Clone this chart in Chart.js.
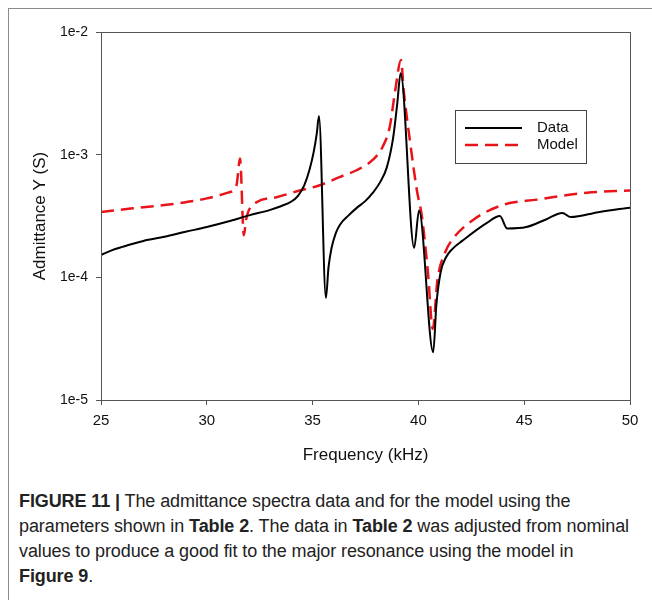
<!DOCTYPE html>
<html>
<head>
<meta charset="utf-8">
<script src="https://cdn.jsdelivr.net/npm/chart.js@4.4.0/dist/chart.umd.min.js"></script>
<style>
  html, body { margin: 0; padding: 0; background: #fff; }
  body { width: 652px; height: 600px; position: relative; overflow: hidden; }
  #frame {
    position: absolute; left: 8px; top: 8px; width: 660px; height: 600px;
    border-left: 1px solid #8a8a8a; border-top: 1px solid #8a8a8a;
  }
  #wrap { position: absolute; left: 0; top: 0; width: 652px; height: 470px; }
  #caption {
    position: absolute; left: 19px; top: 489px; width: 630px;
    font-family: "Liberation Sans", Arial, sans-serif; font-size: 18px;
    line-height: 25px; color: #222; white-space: nowrap; letter-spacing: -0.1px;
  }
  #caption b { font-weight: bold; }
</style>
</head>
<body>
<div id="frame"></div>
<div id="wrap"><canvas id="myChart" width="652" height="470"></canvas></div>
<div id="caption"><b>FIGURE 11 |</b> The admittance spectra data and for the model using the<br>parameters shown in <b>Table 2</b>. The data in <b>Table 2</b> was adjusted from nominal<br>values to produce a good fit to the major resonance using the model in<br><b>Figure 9</b>.</div>
<script>
// Measured admittance (black solid line)
const dataFreq = [25, 25.5, 26, 27, 28, 29, 30, 31, 32, 33, 33.5, 34, 34.3, 34.6, 34.85, 35.05, 35.2, 35.3,
  35.63, 35.75, 35.9, 36.1, 36.3, 36.7, 37.1, 37.5, 37.85, 38.2, 38.5, 38.8, 39.0, 39.16,
  39.8, 40.03, 40.7, 40.85, 41.05, 41.3, 41.6, 42.1, 43.2, 43.85, 44.2, 45.1, 46.0,
  46.8, 47.2, 48.5, 50];
const dataY = [1.52e-4, 1.66e-4, 1.77e-4, 1.98e-4, 2.14e-4, 2.35e-4, 2.57e-4, 2.85e-4, 3.2e-4,
  3.55e-4, 3.8e-4, 4.15e-4, 4.6e-4, 5.6e-4, 7.5e-4, 1.05e-3, 1.5e-3, 2.07e-3,
  6.8e-5, 1.2e-4, 1.75e-4, 2.3e-4, 2.7e-4, 3.2e-4, 3.7e-4, 4.2e-4, 4.9e-4, 6.0e-4, 7.8e-4, 1.35e-3, 2.6e-3, 4.6e-3,
  1.74e-4, 3.5e-4, 2.45e-5, 6.0e-5, 1.1e-4, 1.45e-4, 1.7e-4, 2.0e-4, 2.75e-4, 3.16e-4, 2.5e-4, 2.57e-4, 2.95e-4,
  3.35e-4, 3.1e-4, 3.4e-4, 3.7e-4];

// Model admittance (red dashed line)
const modelFreq = [25, 26.5, 28, 29, 30, 31, 31.4, 31.57, 31.75, 31.85, 31.95, 32.35, 33.3, 34.4,
  35.3, 36.3, 37.1, 37.85, 38.3, 38.65, 38.9, 39.18, 39.3, 39.6, 39.93, 40.17, 40.45, 40.68,
  40.9, 41.25, 41.65, 42.6, 44, 45.6, 47.95, 50];
const modelY = [3.41e-4, 3.65e-4, 3.88e-4, 4.1e-4, 4.4e-4, 4.9e-4, 5.6e-4, 9.3e-4, 2.2e-4, 2.9e-4, 3.4e-4,
  4.1e-4, 4.5e-4, 5.1e-4, 5.6e-4, 6.6e-4, 7.5e-4, 9.1e-4, 1.15e-3, 1.7e-3, 3.3e-3, 5.9e-3, 3.4e-3, 1.3e-3,
  5.1e-4, 3.1e-4, 1.1e-4, 3.8e-5, 9.5e-5, 1.58e-4, 2.08e-4, 2.95e-4, 3.9e-4, 4.3e-4, 4.9e-4, 5.1e-4];

const xTicks = [25, 30, 35, 40, 45, 50];
const yTicks = [1e-5, 1e-4, 1e-3, 1e-2];
const yTickLabels = ["1e-5", "1e-4", "1e-3", "1e-2"];
const legendLabels = ["Data", "Model"];

const toPoints = (xs, ys) => xs.map((x, i) => ({ x: x, y: ys[i] }));

const FONT = "'Liberation Sans', Arial, sans-serif";

// box round the plot area
const frameBox = {
  id: "frameBox",
  afterDraw(chart) {
    const { ctx, chartArea: a } = chart;
    ctx.save();
    ctx.strokeStyle = "#555";
    ctx.lineWidth = 1;
    ctx.strokeRect(a.left + 0.5, a.top + 0.5, a.right - a.left, a.bottom - a.top);
    ctx.restore();
  },
};

// legend box inside the plot
const boxLegend = {
  id: "boxLegend",
  afterDraw(chart) {
    const ctx = chart.ctx;
    const ds = chart.data.datasets;
    ctx.save();
    ctx.fillStyle = "#fff";
    ctx.fillRect(455, 110, 131, 53);
    ctx.strokeStyle = "#444";
    ctx.lineWidth = 1;
    ctx.strokeRect(455.5, 110.5, 131, 53);
    ds.forEach((d, i) => {
      const y = 128 + i * 17;
      ctx.beginPath();
      ctx.strokeStyle = d.borderColor;
      ctx.lineWidth = d.borderWidth;
      ctx.setLineDash(d.borderDash || []);
      ctx.moveTo(465, y);
      ctx.lineTo(522, y);
      ctx.stroke();
      ctx.setLineDash([]);
      ctx.fillStyle = "#111";
      ctx.font = "15px " + FONT;
      ctx.textBaseline = "middle";
      ctx.fillText(legendLabels[i], 537, y);
    });
    ctx.restore();
  },
};

const ctx = document.getElementById("myChart").getContext("2d");

const myChart = new Chart(ctx, {
  type: "line",
  data: {
    datasets: [
      {
        label: legendLabels[0],
        data: toPoints(dataFreq, dataY),
        borderColor: "#000000",
        borderWidth: 2,
        pointRadius: 0,
        cubicInterpolationMode: "monotone",
      },
      {
        label: legendLabels[1],
        data: toPoints(modelFreq, modelY),
        borderColor: "#e8141a",
        borderWidth: 2.5,
        borderDash: [13, 7],
        pointRadius: 0,
        cubicInterpolationMode: "monotone",
      },
    ],
  },
  options: {
    responsive: false,
    animation: false,
    layout: { padding: { left: 26, top: 32, right: 22, bottom: 0 } },
    plugins: {
      legend: { display: false },
      tooltip: { enabled: false },
    },
    scales: {
      x: {
        type: "linear",
        min: 25,
        max: 50,
        afterBuildTicks: (scale) => { scale.ticks = xTicks.map((v) => ({ value: v })); },
        afterFit: (scale) => { scale.height = 70; },
        grid: { drawOnChartArea: false, drawTicks: true, tickLength: 5, color: "#555" },
        border: { display: false },
        ticks: { color: "#111", font: { family: FONT, size: 15 }, padding: 7, maxRotation: 0 },
        title: {
          display: true,
          text: "Frequency (kHz)",
          color: "#111",
          font: { family: FONT, size: 17 },
          padding: { top: 5 },
        },
      },
      y: {
        type: "logarithmic",
        min: 1e-5,
        max: 1e-2,
        afterBuildTicks: (scale) => { scale.ticks = yTicks.map((v) => ({ value: v })); },
        afterFit: (scale) => { scale.width = 75; },
        grid: { drawOnChartArea: false, drawTicks: true, tickLength: 5, color: "#555" },
        border: { display: false },
        ticks: {
          color: "#111",
          font: { family: FONT, size: 14 },
          padding: 8,
          callback: (v) => yTickLabels[yTicks.indexOf(v)] ?? "",
        },
        title: {
          display: true,
          text: "Admittance Y (S)",
          color: "#111",
          font: { family: FONT, size: 17 },
          padding: { bottom: 4 },
        },
      },
    },
  },
  plugins: [frameBox, boxLegend],
});
</script>
</body>
</html>
